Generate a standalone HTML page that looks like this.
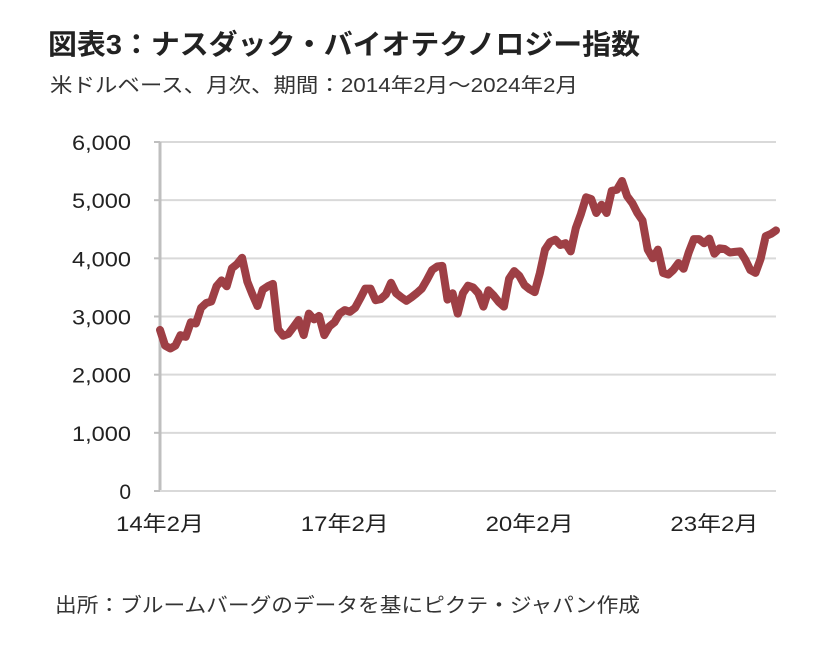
<!DOCTYPE html>
<html><head><meta charset="utf-8"><style>
body{margin:0;width:825px;height:644px;background:#fff;font-family:"Liberation Sans","Noto Sans CJK JP",sans-serif;color:#222;overflow:hidden}
</style></head><body>
<svg id="chart" width="825" height="644" xmlns="http://www.w3.org/2000/svg">
<text x="48" y="54" font-size="28" font-weight="bold" fill="#222" textLength="592" lengthAdjust="spacingAndGlyphs" font-family="Liberation Sans, Noto Sans CJK JP, sans-serif">図表3：ナスダック・バイオテクノロジー指数</text>
<text x="50" y="92" font-size="20" fill="#333" textLength="528" lengthAdjust="spacingAndGlyphs" font-family="Liberation Sans, Noto Sans CJK JP, sans-serif">米ドルベース、月次、期間：2014年2月～2024年2月</text>
<g id="grid"></g><g id="axes"></g><g id="series"></g>
<text x="55" y="612" font-size="20" fill="#333" textLength="585" lengthAdjust="spacingAndGlyphs" font-family="Liberation Sans, Noto Sans CJK JP, sans-serif">出所：ブルームバーグのデータを基にピクテ・ジャパン作成</text>
</svg>
<script>
const yTicks=[0,1000,2000,3000,4000,5000,6000];
const yTickLabels=["0","1,000","2,000","3,000","4,000","5,000","6,000"];
const xTickIndex=[0,36,72,108];
const xTickLabels=["14年2月","17年2月","20年2月","23年2月"];
const values=[2770,2500,2450,2500,2680,2650,2900,2880,3150,3230,3260,3520,3620,3520,3830,3900,4010,3600,3380,3180,3460,3520,3560,2780,2670,2700,2820,2940,2680,3050,2950,3010,2680,2830,2900,3050,3110,3080,3150,3310,3480,3480,3280,3300,3380,3580,3400,3330,3270,3330,3400,3480,3630,3800,3860,3870,3290,3400,3050,3400,3530,3500,3400,3170,3450,3360,3250,3170,3650,3780,3700,3540,3470,3420,3750,4150,4280,4320,4230,4260,4120,4520,4760,5050,5020,4780,4920,4780,5160,5180,5330,5070,4950,4780,4650,4150,4000,4150,3750,3720,3800,3920,3820,4100,4330,4330,4260,4340,4080,4170,4160,4100,4110,4120,3980,3800,3750,3990,4380,4420,4480];
const NS="http://www.w3.org/2000/svg";
const x0=160,x1=776,yTop=142,yBot=491;
const xs=i=>x0+(x1-x0)*i/(values.length-1);
const ys=v=>yBot-(yBot-yTop)*v/6000;
function mk(t,a,p){const e=document.createElementNS(NS,t);for(const k in a)e.setAttribute(k,a[k]);p.appendChild(e);return e;}
const grid=document.getElementById('grid'),axes=document.getElementById('axes'),ser=document.getElementById('series');
yTicks.forEach((v,i)=>{
 if(v>0){const g=mk('line',{x1:x0,x2:x1,y1:ys(v),y2:ys(v),stroke:'#d9d9d9','stroke-width':2},grid);
 
 }
 const tk=mk('line',{x1:x0-6,x2:x0,y1:ys(v),y2:ys(v),stroke:'#bfbfbf','stroke-width':2},axes);
 
 
 const a={x:131,y:ys(v)+8,'text-anchor':'end','font-size':21,fill:'#222'};
 if(yTickLabels[i].length>1){a.textLength=59;a.lengthAdjust='spacingAndGlyphs';}
 const t=mk('text',a,axes);
 t.textContent=yTickLabels[i];
 
 
});
const ax=mk('line',{x1:x0,x2:x0,y1:yTop,y2:yBot,stroke:'#bfbfbf','stroke-width':3},axes);


const xa=mk('line',{x1:x0,x2:x1,y1:yBot,y2:yBot,stroke:'#d9d9d9','stroke-width':2},axes);


xTickIndex.forEach((ix,i)=>{
 const t=mk('text',{x:xs(ix),y:531,'text-anchor':'middle','font-size':21,fill:'#222',textLength:88,lengthAdjust:'spacingAndGlyphs'},axes);
 t.textContent=xTickLabels[i];
 
 
});
const d=values.map((v,i)=>(i?'L':'M')+xs(i).toFixed(1)+','+ys(v).toFixed(1)).join('');
const p=mk('path',{d:d,fill:'none',stroke:'#9e3f45','stroke-width':8,'stroke-linejoin':'round','stroke-linecap':'round'},ser);


</script>
</body></html>
